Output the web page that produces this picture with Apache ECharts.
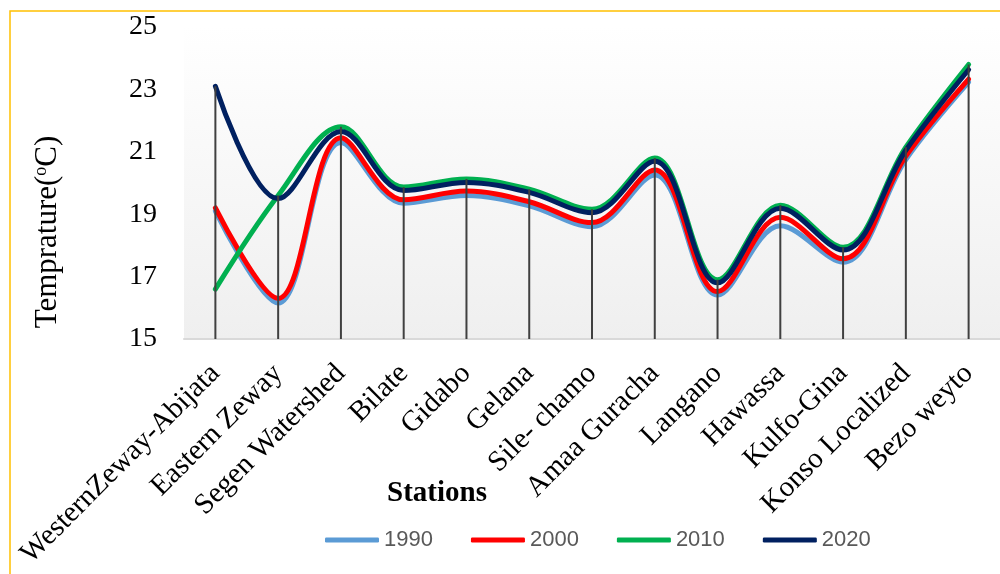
<!DOCTYPE html>
<html>
<head>
<meta charset="utf-8">
<script src="https://cdn.jsdelivr.net/npm/echarts@6/dist/echarts.min.js"></script>
<style>
  html, body { margin: 0; padding: 0; background: #ffffff; }
  #chart { width: 1000px; height: 574px; }
</style>
</head>
<body>
<div id="chart"></div>
<script>
// Mean temperature (°C) per station for four reference years
const stations = ['WesternZeway-Abijata', 'Eastern Zeway', 'Segen Watershed', 'Bilate', 'Gidabo', 'Gelana',
  'Sile- chamo', 'Amaa Guracha', 'Langano', 'Hawassa', 'Kulfo-Gina', 'Konso Localized', 'Bezo weyto'];
const years = ['1990', '2000', '2010', '2020'];
const t1990 = [19.1, 16.15, 21.3, 19.35, 19.6, 19.27, 18.6, 20.26, 16.41, 18.63, 17.46, 20.75, 23.23];
const t2000 = [19.2, 16.3, 21.45, 19.46, 19.74, 19.4, 18.73, 20.42, 16.52, 18.9, 17.57, 20.86, 23.33];
const t2010 = [16.6, 19.6, 21.8, 19.87, 20.13, 19.8, 19.16, 20.8, 16.9, 19.29, 17.94, 21.15, 23.8];
const t2020 = [23.1, 19.5, 21.65, 19.76, 20.02, 19.7, 19.05, 20.7, 16.8, 19.19, 17.85, 21.05, 23.63];
const yTicks = { min: 15, max: 25, step: 2 };

const seriesValues = [t1990, t2000, t2010, t2020];
const colors = ['#5b9bd5', '#ff0000', '#00b050', '#002060'];

// drop line from the highest series at each station down to the axis
const dropData = stations.map((s, i) => [i, Math.max(...seriesValues.map(v => v[i]))]);

const chart = echarts.init(document.getElementById('chart'), null, { renderer: 'canvas' });

const lineSeries = years.map((y, k) => ({
  name: y,
  type: 'line',
  data: seriesValues[k],
  smooth: 0.35,
  symbol: 'none',
  showSymbol: false,
  lineStyle: { color: colors[k], width: 5, cap: 'round', join: 'round' },
  itemStyle: { color: colors[k] },
  z: 2 + k,
  animation: false
}));

const dropSeries = {
  type: 'custom',
  data: dropData,
  z: 10,
  silent: true,
  animation: false,
  renderItem: function (params, api) {
    const top = api.coord([api.value(0), api.value(1)]);
    const bottom = api.coord([api.value(0), yTicks.min]);
    return {
      type: 'line',
      shape: { x1: top[0], y1: top[1], x2: bottom[0], y2: bottom[1] },
      style: { stroke: '#404040', lineWidth: 2 }
    };
  }
};

chart.setOption({
  animation: false,
  backgroundColor: '#ffffff',
  grid: {
    left: 184, top: 27, width: 823, height: 312,
    show: true,
    borderWidth: 0,
    backgroundColor: new echarts.graphic.LinearGradient(0, 0, 0, 1, [
      { offset: 0, color: '#ffffff' },
      { offset: 1, color: '#efefef' }
    ])
  },
  legend: {
    show: true,
    data: years,
    left: 325,
    top: 529,
    padding: 0,
    icon: 'roundRect',
    itemWidth: 54,
    itemHeight: 5,
    itemGap: 38,
    textStyle: { fontFamily: 'Liberation Sans', fontSize: 22, color: '#595959' }
  },
  xAxis: {
    type: 'category',
    data: stations,
    boundaryGap: true,
    axisLine: { show: true, lineStyle: { color: '#d9d9d9', width: 2 } },
    axisTick: { show: false },
    splitLine: { show: false },
    axisLabel: {
      interval: 0,
      rotate: 45,
      margin: 30,
      fontFamily: 'Liberation Serif',
      fontSize: 29,
      color: '#000000'
    }
  },
  yAxis: {
    type: 'value',
    min: yTicks.min,
    max: yTicks.max,
    interval: yTicks.step,
    axisLine: { show: false },
    axisTick: { show: false },
    splitLine: { show: false },
    axisLabel: {
      margin: 27,
      fontFamily: 'Liberation Serif',
      fontSize: 28,
      color: '#000000'
    }
  },
  graphic: [
    {
      type: 'rect',
      shape: { x: 10, y: 11, width: 1200, height: 800 },
      style: { fill: null, stroke: '#ffc000', lineWidth: 1.5 },
      silent: true,
      z: 0
    },
    {
      type: 'text',
      x: 48, y: 232,
      rotation: Math.PI / 2,
      style: {
        text: '{n|Temprature(}{s|o}{n|C)}',
        align: 'center',
        verticalAlign: 'middle',
        rich: {
          n: { fontFamily: 'Liberation Serif', fontSize: 31, color: '#000000' },
          s: { fontFamily: 'Liberation Serif', fontSize: 18, color: '#000000', verticalAlign: 'top' }
        }
      }
    },
    {
      type: 'text',
      x: 437, y: 494,
      style: {
        text: 'Stations',
        align: 'center',
        verticalAlign: 'middle',
        fontFamily: 'Liberation Serif',
        fontWeight: 'bold',
        fontSize: 29,
        fill: '#000000'
      }
    }
  ],
  series: [...lineSeries, dropSeries]
});
</script>
</body>
</html>
